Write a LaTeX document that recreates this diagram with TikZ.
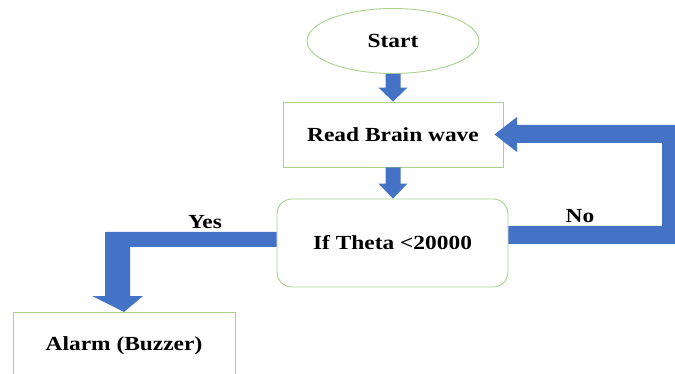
\documentclass[tikz,border=0pt]{standalone}
\usepackage{fontspec}
\setmainfont{Liberation Serif}[FakeStretch=1.17]
\usetikzlibrary{calc,shapes.geometric}
\definecolor{arrowblue}{HTML}{4472C4}
\definecolor{boxgreen}{HTML}{A9D18E}
\begin{document}
\begin{tikzpicture}[x=1pt,y=-1pt,
  box/.style={draw=boxgreen, line width=0.9pt, fill=white, inner sep=0pt,
    font=\fontsize{20}{24}\selectfont\bfseries},
  lbl/.style={inner sep=0pt, font=\fontsize{20}{24}\selectfont\bfseries},
  blk/.style={fill=arrowblue, draw=none}]
\useasboundingbox (0,0) rectangle (675,374);
\clip (0,0) rectangle (675,374);
\node[box, ellipse, minimum width=172, minimum height=65] (start) at (393,41) {Start};
\node[box, rectangle, minimum width=220, minimum height=65] (read) at (393,134.5) {Read Brain wave};
\node[box, rectangle, rounded corners=15pt, minimum width=231, minimum height=88] (if) at (392.5,243) {If Theta <20000};
\node[box, rectangle, minimum width=222, minimum height=66, anchor=north] (alarm) at (124,312) {Alarm (Buzzer)};
% Start -> Read
\coordinate (t1) at (read.north);
\fill[blk] ($(start.south)+(-7.5,0)$) -- ($(start.south)+(7.5,0)$) -- ($(t1)+(7.5,-14)$)
  -- ($(t1)+(14.5,-14)$) -- (t1) -- ($(t1)+(-14.5,-14)$)
  -- ($(t1)+(-7.5,-14)$) -- cycle;
% Read -> If
\coordinate (t2) at (read.south |- if.north);
\fill[blk] ($(read.south)+(-7.5,0)$) -- ($(read.south)+(7.5,0)$) -- ($(t2)+(7.5,-15)$)
  -- ($(t2)+(14.5,-15)$) -- (t2) -- ($(t2)+(-14.5,-15)$)
  -- ($(t2)+(-7.5,-15)$) -- cycle;
% Yes branch
\coordinate (ycorner) at (105,232);
\fill[blk] (if.west |- 0,232) -- (ycorner) -- (105,296) -- (92,296) -- (alarm.north)
  -- (143,296) -- (130,296) -- (130,247) -- (if.west |- 0,247) -- cycle;
% No branch
\coordinate (ncorner) at (680,125);
\fill[blk] (if.east |- 0,226) -- (662,226) -- (662,143) -- (517,143) -- (517,152)
  -- ($(read.east)+(-9,0)$) -- (517,117) -- (517,125) -- (ncorner) -- (680,244)
  -- (if.east |- 0,244) -- cycle;
\node[lbl] (yes) at (205,222) {Yes};
\node[lbl] (no) at (580,216) {No};
\end{tikzpicture}
\end{document}
